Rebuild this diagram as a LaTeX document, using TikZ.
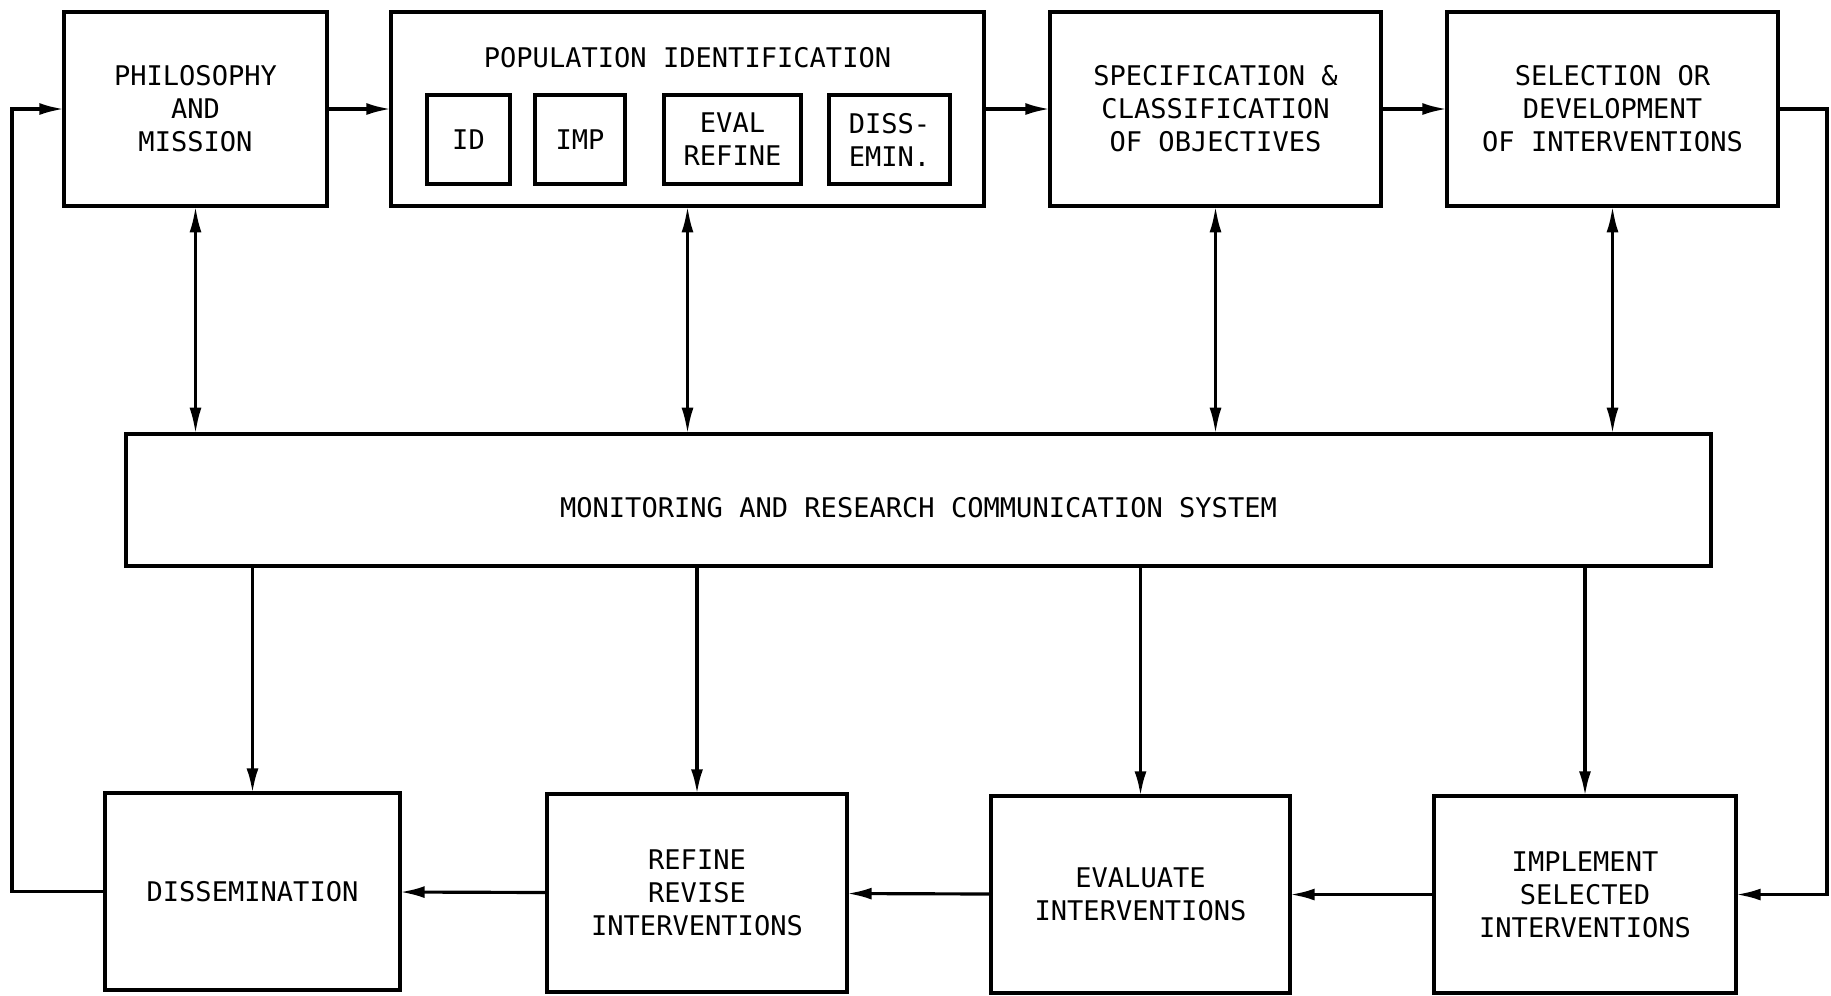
\documentclass[tikz,border=0pt]{standalone}
\usepackage{fontspec}
\setmonofont{DejaVu Sans Mono}
\usetikzlibrary{arrows.meta}
\begin{document}
\begin{tikzpicture}[
    box/.style={draw,line width=1pt,inner sep=0pt,outer sep=0pt,align=center,font=\ttfamily\fontsize{7.7}{9.4}\selectfont},
    txt/.style={inner sep=0pt,align=center,font=\ttfamily\fontsize{7.7}{9.4}\selectfont},
    arr/.style={line width=0.9pt,-{Latex[length=7pt,width=3.4pt]}},
    arrboth/.style={line width=0.9pt,{Latex[length=7.5pt,width=3.4pt]}-{Latex[length=7.5pt,width=3.4pt]}}
  ]
  \useasboundingbox (0,0) rectangle (18.31,-9.95);
  % top row
  \node[box,minimum width=2.63cm,minimum height=1.94cm] (phil) at (1.955,-1.09) {PHILOSOPHY\\AND\\MISSION};
  \node[box,minimum width=5.93cm,minimum height=1.94cm] (pop) at (6.875,-1.09) {};
  \node[txt] (poptitle) at (6.875,-0.58) {POPULATION IDENTIFICATION};
  \node[box,minimum width=0.83cm,minimum height=0.89cm] (id) at (4.685,-1.395) {ID};
  \node[box,minimum width=0.90cm,minimum height=0.89cm] (imp) at (5.80,-1.395) {IMP};
  \node[box,minimum width=1.37cm,minimum height=0.89cm] (evref) at (7.325,-1.395) {EVAL\\REFINE};
  \node[box,minimum width=1.21cm,minimum height=0.89cm] (dissin) at (8.895,-1.395) {DISS-\\EMIN.};
  \node[box,minimum width=3.31cm,minimum height=1.94cm] (spec) at (12.155,-1.09) {SPECIFICATION \&\\CLASSIFICATION\\OF OBJECTIVES};
  \node[box,minimum width=3.31cm,minimum height=1.94cm] (sel) at (16.125,-1.09) {SELECTION OR\\DEVELOPMENT\\OF INTERVENTIONS};
  % middle
  \node[box,minimum width=15.85cm,minimum height=1.32cm] (mon) at (9.185,-5.00) {};
  \node[txt] (montext) at (9.185,-5.08) {MONITORING AND RESEARCH COMMUNICATION SYSTEM};
  % bottom row
  \node[box,minimum width=2.95cm,minimum height=1.97cm] (diss) at (2.525,-8.915) {DISSEMINATION};
  \node[box,minimum width=3.00cm,minimum height=1.98cm] (refn) at (6.97,-8.93) {REFINE\\REVISE\\INTERVENTIONS};
  \node[box,minimum width=2.99cm,minimum height=1.97cm] (eval) at (11.405,-8.945) {EVALUATE\\INTERVENTIONS};
  \node[box,minimum width=3.02cm,minimum height=1.97cm] (impl) at (15.85,-8.945) {IMPLEMENT\\SELECTED\\INTERVENTIONS};
  \coordinate (westrail) at (0.12,0);
  \coordinate (eastrail) at (18.27,0);
  % flow
  \draw[arr] (phil) -- (pop);
  \draw[arr] (pop) -- (spec);
  \draw[arr] (spec) -- (sel);
  \draw[arr] (impl) -- (eval);
  \draw[arr] (eval) -- (refn);
  \draw[arr] (refn) -- (diss);
  \draw[arr] (sel.east) -- (sel.east -| eastrail) |- (impl.east);
  \draw[arr] (diss.west) -- (diss.west -| westrail) |- (phil.west);
  \foreach \n in {phil,pop,spec,sel} {
      \draw[arrboth] (\n.south) -- (\n.south |- mon.north);
  }
  \foreach \n in {diss,refn,eval,impl} {
      \draw[arr] (mon.south -| \n.north) -- (\n.north);
  }
\end{tikzpicture}
\end{document}
